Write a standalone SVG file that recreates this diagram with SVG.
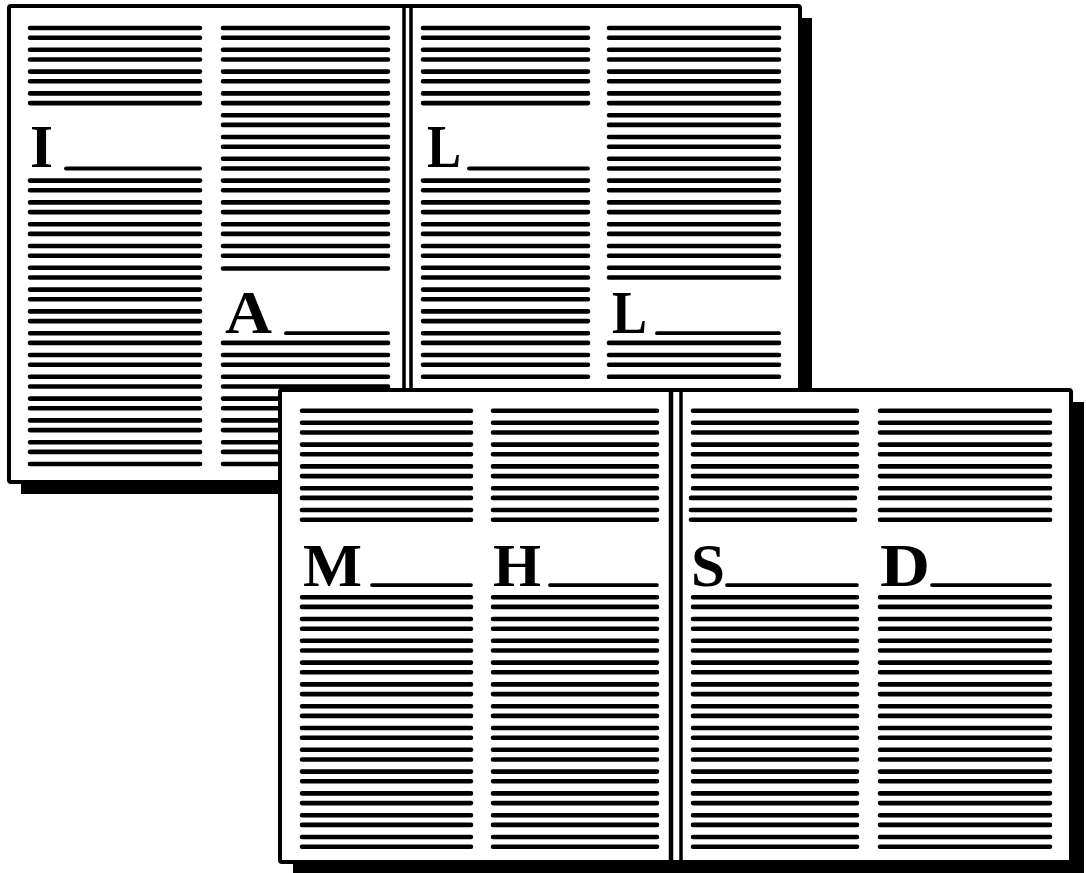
<svg xmlns="http://www.w3.org/2000/svg" width="1086" height="873" viewBox="0 0 1086 873">
<style>
.ln{fill:none;stroke:#000;stroke-width:4.6;stroke-linecap:round}
.ul{fill:none;stroke:#000;stroke-width:3.8;stroke-linecap:round}
.page{fill:#fff;stroke:#000;stroke-width:4}
.shadow{fill:#000}
.spine{stroke:#000;stroke-width:3.5}
.lt{font-family:"Liberation Serif","DejaVu Serif",serif;font-weight:bold;font-size:61px;fill:#000}
</style>
<rect width="1086" height="873" fill="#fff"/>
<g id="journal-top">
<rect class="shadow" x="21" y="18" width="791" height="476"/>
<rect class="page" x="9" y="6" width="791" height="476" rx="2"/>
<line class="spine" x1="404" y1="6" x2="404" y2="482"/>
<line class="spine" x1="411" y1="6" x2="411" y2="482"/>
<g id="top-col1">
<path class="ln" d="M30 28H200M30 37.7H200M30 49.8H200M30 59.5H200M30 71.6H200M30 81.3H200M30 93.4H200M30 103.1H200M30 180.6H200M30 190.3H200M30 202.4H200M30 212.1H200M30 224.2H200M30 233.9H200M30 246H200M30 255.7H200M30 267.8H200M30 277.5H200M30 289.6H200M30 299.3H200M30 311.4H200M30 321.1H200M30 333.2H200M30 342.9H200M30 355H200M30 364.7H200M30 376.8H200M30 386.5H200M30 398.6H200M30 408.3H200M30 420.4H200M30 430.1H200M30 442.2H200M30 451.9H200M30 464H200"/>
<path class="ul" d="M66 168.5H200"/>
<text class="lt" x="30" y="167" textLength="23" lengthAdjust="spacingAndGlyphs">I</text>
</g>
<g id="top-col2">
<path class="ln" d="M223 28H388M223 37.7H388M223 49.8H388M223 59.5H388M223 71.6H388M223 81.3H388M223 93.4H388M223 103.1H388M223 115.2H388M223 124.9H388M223 137H388M223 146.7H388M223 158.8H388M223 168.5H388M223 180.6H388M223 190.3H388M223 202.4H388M223 212.1H388M223 224.2H388M223 233.9H388M223 246H388M223 255.7H388M223 268.5H388M223 342.9H388M223 355H388M223 364.7H388M223 376.8H388M223 386.5H388M223 398.6H388M223 408.3H388M223 420.4H388M223 430.1H388M223 442.2H388M223 451.9H388M223 464H388"/>
<path class="ul" d="M286 333.2H388"/>
<text class="lt" x="225" y="333" textLength="47" lengthAdjust="spacingAndGlyphs">A</text>
</g>
<g id="top-col3">
<path class="ln" d="M423 28H588M423 37.7H588M423 49.8H588M423 59.5H588M423 71.6H588M423 81.3H588M423 93.4H588M423 103.1H588M423 180.6H588M423 190.3H588M423 202.4H588M423 212.1H588M423 224.2H588M423 233.9H588M423 246H588M423 255.7H588M423 267.8H588M423 277.5H588M423 289.6H588M423 299.3H588M423 311.4H588M423 321.1H588M423 333.2H588M423 342.9H588M423 355H588M423 364.7H588M423 376.8H588"/>
<path class="ul" d="M469 168.5H588"/>
<text class="lt" x="427" y="167" textLength="34" lengthAdjust="spacingAndGlyphs">L</text>
</g>
<g id="top-col4">
<path class="ln" d="M609 28H779M609 37.7H779M609 49.8H779M609 59.5H779M609 71.6H779M609 81.3H779M609 93.4H779M609 103.1H779M609 115.2H779M609 124.9H779M609 137H779M609 146.7H779M609 158.8H779M609 168.5H779M609 180.6H779M609 190.3H779M609 202.4H779M609 212.1H779M609 224.2H779M609 233.9H779M609 246H779M609 255.7H779M609 267.8H779M609 277.5H779M609 342.9H779M609 355H779M609 364.7H779M609 376.8H779"/>
<path class="ul" d="M657 333.2H779"/>
<text class="lt" x="612" y="333" textLength="35" lengthAdjust="spacingAndGlyphs">L</text>
</g>
</g>
<g id="journal-bottom">
<rect class="shadow" x="293" y="402" width="791" height="472"/>
<rect class="page" x="280" y="390" width="791" height="472" rx="2"/>
<line class="spine" x1="671" y1="390" x2="671" y2="862" style="stroke-width:4.5"/>
<line class="spine" x1="681" y1="390" x2="681" y2="862"/>
<g id="bottom-col1">
<path class="ln" d="M302 410.7H471M302 422.8H471M302 432.5H471M302 444.6H471M302 454.3H471M302 466.4H471M302 476.1H471M302 488.2H471M302 497.9H471M302 510H471M302 519.7H471M302 597.2H471M302 606.9H471M302 619H471M302 628.7H471M302 640.8H471M302 650.5H471M302 662.6H471M302 672.3H471M302 684.4H471M302 694.1H471M302 706.2H471M302 715.9H471M302 728H471M302 737.7H471M302 749.8H471M302 759.5H471M302 771.6H471M302 781.3H471M302 793.4H471M302 803.1H471M302 815.2H471M302 824.9H471M302 837H471M302 846.7H471"/>
<path class="ul" d="M372 585.1H471"/>
<text class="lt" x="303" y="586" textLength="59" lengthAdjust="spacingAndGlyphs">M</text>
</g>
<g id="bottom-col2">
<path class="ln" d="M493 410.7H657M493 422.8H657M493 432.5H657M493 444.6H657M493 454.3H657M493 466.4H657M493 476.1H657M493 488.2H657M493 497.9H657M493 510H657M493 519.7H657M493 597.2H657M493 606.9H657M493 619H657M493 628.7H657M493 640.8H657M493 650.5H657M493 662.6H657M493 672.3H657M493 684.4H657M493 694.1H657M493 706.2H657M493 715.9H657M493 728H657M493 737.7H657M493 749.8H657M493 759.5H657M493 771.6H657M493 781.3H657M493 793.4H657M493 803.1H657M493 815.2H657M493 824.9H657M493 837H657M493 846.7H657"/>
<path class="ul" d="M550 585.1H657"/>
<text class="lt" x="493" y="586" textLength="48" lengthAdjust="spacingAndGlyphs">H</text>
</g>
<g id="bottom-col3">
<path class="ln" d="M693 410.7H857M693 422.8H857M693 432.5H857M693 444.6H857M693 454.3H857M693 466.4H857M693 476.1H857M693 488.2H857M691 497.9H855M691 510H855M691 519.7H855M693 597.2H857M693 606.9H857M693 619H857M693 628.7H857M693 640.8H857M693 650.5H857M693 662.6H857M693 672.3H857M693 684.4H857M693 694.1H857M693 706.2H857M693 715.9H857M693 728H857M693 737.7H857M693 749.8H857M693 759.5H857M693 771.6H857M693 781.3H857M693 793.4H857M693 803.1H857M693 815.2H857M693 824.9H857M693 837H857M693 846.7H857"/>
<path class="ul" d="M727 585.1H857"/>
<text class="lt" x="691" y="586" textLength="34" lengthAdjust="spacingAndGlyphs">S</text>
</g>
<g id="bottom-col4">
<path class="ln" d="M880 410.7H1050M880 422.8H1050M880 432.5H1050M880 444.6H1050M880 454.3H1050M880 466.4H1050M880 476.1H1050M880 488.2H1050M880 497.9H1050M880 510H1050M880 519.7H1050M880 597.2H1050M880 606.9H1050M880 619H1050M880 628.7H1050M880 640.8H1050M880 650.5H1050M880 662.6H1050M880 672.3H1050M880 684.4H1050M880 694.1H1050M880 706.2H1050M880 715.9H1050M880 728H1050M880 737.7H1050M880 749.8H1050M880 759.5H1050M880 771.6H1050M880 781.3H1050M880 793.4H1050M880 803.1H1050M880 815.2H1050M880 824.9H1050M880 837H1050M880 846.7H1050"/>
<path class="ul" d="M932 585.1H1050"/>
<text class="lt" x="880" y="586" textLength="50" lengthAdjust="spacingAndGlyphs">D</text>
</g>
</g>
</svg>
